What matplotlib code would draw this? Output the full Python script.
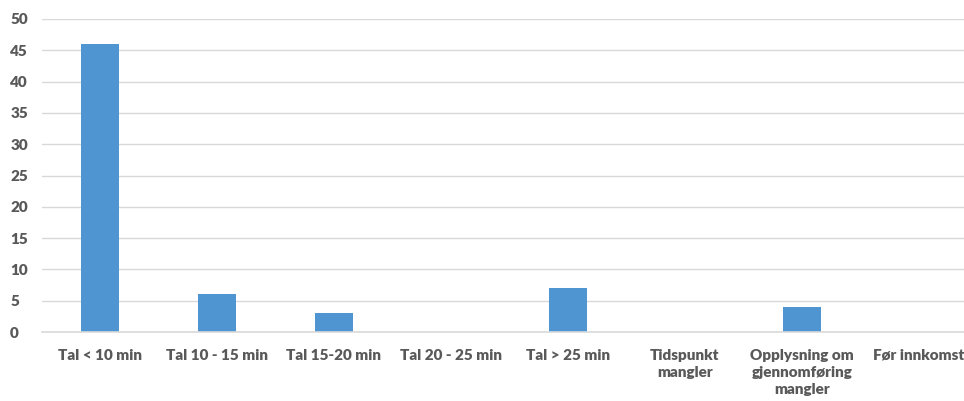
import matplotlib.pyplot as plt
import numpy as np

categories = ["Tal < 10 min", "Tal 10 - 15 min", "Tal 15-20 min", "Tal 20 - 25 min",
              "Tal > 25 min", "Tidspunkt\nmangler", "Opplysning om\ngjennomføring\nmangler",
              "Før innkomst"]
values = [46, 6, 3, 0, 7, 0, 4, 0]
yticks = list(range(0, 55, 5))

plt.rcParams['font.family'] = ['Lato', 'DejaVu Sans']

fig = plt.figure(figsize=(9.64, 4.01), dpi=100)
W, H = 964, 401
left, right = 41.5, 977.5
bottom, top = 332, 19
ax = fig.add_axes([left / W, (H - bottom) / H, (right - left) / W, (bottom - top) / H])

x = np.arange(len(categories))
ax.bar(x, values, width=0.32, color='#4e95d2', zorder=3)

ax.set_xlim(-0.5, len(categories) - 0.5)
ax.set_ylim(0, 50)
ax.set_yticks(yticks)
ax.set_xticks(x)
ax.set_xticklabels(categories, linespacing=1.38)
ax.grid(axis='y', color='#d9d9d9', linewidth=1, zorder=0)
ax.set_axisbelow(True)

for s in ['top', 'right', 'left']:
    ax.spines[s].set_visible(False)
ax.spines['bottom'].set_color('#d9d9d9')
ax.spines['bottom'].set_linewidth(1.2)
ax.spines['bottom'].set_zorder(4)

ax.tick_params(axis='both', length=0, colors='#595959', labelsize=11)
ax.tick_params(axis='x', pad=12)
ax.tick_params(axis='y', pad=22.5)
for lab in ax.get_xticklabels() + ax.get_yticklabels():
    lab.set_fontweight('heavy')
for lab in ax.get_yticklabels():
    lab.set_horizontalalignment('left')

fig.savefig('out.png', dpi=100)
